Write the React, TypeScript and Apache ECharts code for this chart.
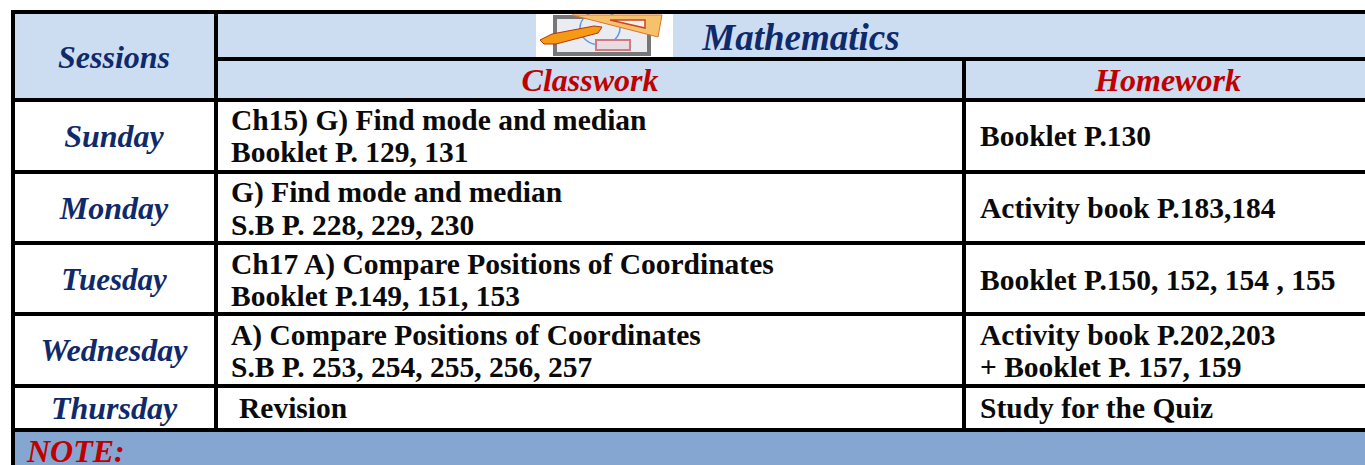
import React, { useEffect, useRef } from "react";
import * as echarts from "echarts";

const sessions = ["Sunday", "Monday", "Tuesday", "Wednesday", "Thursday"];
const classwork = [
  ["Ch15) G) Find mode and median", "Booklet P. 129, 131"],
  ["G) Find mode and median", "S.B P. 228, 229, 230"],
  ["Ch17 A) Compare Positions of Coordinates", "Booklet P.149, 151, 153"],
  ["A) Compare Positions of Coordinates", "S.B P. 253, 254, 255, 256, 257"],
  ["Revision"],
];
const homework = [
  ["Booklet P.130"],
  ["Activity book P.183,184"],
  ["Booklet P.150, 152, 154 , 155"],
  ["Activity book P.202,203", "+ Booklet P. 157, 159"],
  ["Study for the Quiz"],
];

const FONT = '"Liberation Serif", "Times New Roman", serif';
const NAVY = "#0f2a6b";
const RED = "#c00000";
const HEAD = "#ccddf2";
const NOTE = "#86a6d2";
const lineTops = [98, 170, 241, 312, 384, 428];
const dayMid = [136, 208, 279, 350, 408];
const daySize = [32, 32, 31, 32, 32];
const classMid = [[120, 152], [192, 225], [264, 296], [335, 367], [408]];
const homeMid = [[136], [208], [280], [335, 367], [408]];
const X1 = 214, X2 = 962, W = 1365;

function App() {
  const ref = useRef<HTMLDivElement>(null);
  useEffect(() => {
    const chart = echarts.init(ref.current!, null, { renderer: "svg" });
    const rect = (x: number, y: number, w: number, h: number, fill: string) => ({
      type: "rect", shape: { x, y, width: w, height: h }, style: { fill }, silent: true,
    });
    const text = (s: string, x: number, y: number, size: number, color: string, italic: boolean, align = "center") => ({
      type: "text", x, y,
      style: { text: s, fill: color, font: `${italic ? "italic " : ""}bold ${size}px ${FONT}`, textAlign: align, textVerticalAlign: "middle" },
      silent: true,
    });
    const els: any[] = [];
    els.push(rect(14, 12, W - 14, 88, HEAD));
    els.push(rect(14, 430, W - 14, 35, NOTE));
    // icon
    els.push(rect(536, 13, 137, 45, "#ffffff"));
    els.push({ type: "rect", shape: { x: 555, y: 17, width: 94, height: 37 }, style: { fill: "#ebebf2", stroke: "#777777", lineWidth: 4 }, silent: true });
    els.push({ type: "ellipse", shape: { cx: 600, cy: 28, rx: 20, ry: 17 }, style: { stroke: "#5a9ae6", lineWidth: 1.5, fill: "none" }, silent: true });
    els.push({ type: "rect", shape: { x: 596, y: 40, width: 34, height: 10 }, style: { stroke: "#d07a80", lineWidth: 2, fill: "#e6dce2" }, silent: true });
    els.push({ type: "polygon", shape: { points: [[572, 15], [662, 15], [658, 37]] }, style: { fill: "#f5c26b", stroke: "#d8772a", lineWidth: 1 }, silent: true });
    els.push({ type: "polygon", shape: { points: [[610, 20], [645, 20], [645, 28]] }, style: { fill: "#f7f0e6", stroke: "#c8442a", lineWidth: 1.5 }, silent: true });
    els.push({ type: "polygon", shape: { points: [[540, 40], [552, 34], [594, 26], [602, 27], [598, 33], [556, 44], [544, 44]] }, style: { fill: "#f59a12", stroke: "#b5330e", lineWidth: 1 }, silent: true });

    // rules
    els.push(rect(11, 10, W - 11, 4, "#000"));
    els.push(rect(X1, 57, W - X1, 4, "#000"));
    for (const y of lineTops) els.push(rect(11, y, W - 11, 4, "#000"));
    els.push(rect(11, 10, 4, 455, "#000"));
    els.push(rect(X1, 10, 4, 422, "#000"));
    els.push(rect(X2, 59, 4, 373, "#000"));

    // header
    els.push(text("Sessions", 114, 57, 32, NAVY, true));
    els.push(text("Mathematics", 801, 37, 37, NAVY, true));
    els.push(text("Classwork", 590, 80, 32, RED, true));
    els.push(text("Homework", 1168, 80, 32, RED, true));
    els.push(text("NOTE:", 27, 451, 32, RED, true, "left"));

    sessions.forEach((s, i) => {
      els.push(text(s, 114, dayMid[i], daySize[i], NAVY, true));
      classwork[i].forEach((t, k) => els.push(text(t, i === 4 ? 239 : 231, classMid[i][k], 29.5, "#0a0a0a", false, "left")));
      homework[i].forEach((t, k) => els.push(text(t, 980, homeMid[i][k], 29.5, "#0a0a0a", false, "left")));
    });

    chart.setOption({ animation: false, graphic: { elements: els } });
    return () => chart.dispose();
  }, []);
  return <div ref={ref} style={{ position: "fixed", left: 0, top: 0, width: 1365, height: 465, background: "#fff" }} />;
}

export default App;
